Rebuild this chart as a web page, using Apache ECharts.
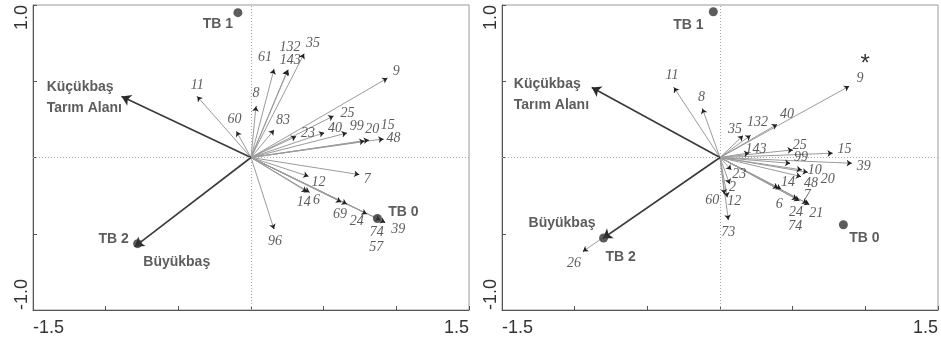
<!DOCTYPE html>
<html>
<head>
<meta charset="utf-8">
<script src="https://cdn.jsdelivr.net/npm/echarts@6/dist/echarts.min.js"></script>
<style>
  html, body { margin: 0; padding: 0; background: #fff; }
  #chart { width: 941px; height: 342px; }
</style>
</head>
<body>
<div id="chart"></div>
<script>
// ---- Left biplot: species vectors (axis 1 / axis 2 scores) ----
const speciesA  = ['11','60','8','61','143','132','35','83','9','25','23','40','99','20','15','48','7','12','14','6','69','24','74','39','57','96'];
const speciesAx = [-0.37,-0.10,0.034,0.158,0.25,0.255,0.365,0.158,0.938,0.567,0.31,0.503,0.659,0.78,0.81,0.911,0.744,0.395,0.384,0.402,0.62,0.659,0.796,0.923,0.89,0.158];
const speciesAy = [0.40,0.17,0.335,0.578,0.57,0.575,0.68,0.18,0.52,0.272,0.138,0.162,0.16,0.107,0.115,0.122,-0.112,-0.123,-0.224,-0.228,-0.292,-0.305,-0.37,-0.426,-0.41,-0.469];

// ---- Right biplot: species vectors ----
const speciesB  = ['26','11','8','35','132','40','9','143','25','15','99','39','10','20','48','14','6','7','21','24','74','23','2','60','12','73'];
const speciesBx = [-0.943,-0.317,-0.121,0.158,0.21,0.392,0.888,0.20,0.50,0.774,0.482,0.906,0.562,0.603,0.557,0.42,0.40,0.546,0.614,0.53,0.60,0.077,0.066,0.03,0.05,0.057];
const speciesBy = [-0.616,0.459,0.32,0.143,0.145,0.217,0.467,0.03,0.05,0.028,-0.038,-0.038,-0.081,-0.097,-0.125,-0.206,-0.20,-0.283,-0.309,-0.275,-0.30,-0.081,-0.173,-0.24,-0.26,-0.408];
const starredB  = ['9'];

// ---- Environmental variables ----
const envNames = ['Küçükbaş\nTarım Alanı', 'Büyükbaş'];
const envAx = [-0.89, -0.80];
const envAy = [0.40, -0.585];
const envBx = [-0.882, -0.805];
const envBy = [0.459, -0.53];

// ---- Group centroids ----
const groupNames = ['TB 0', 'TB 1', 'TB 2'];
const groupAx = [0.87, -0.09, -0.78];
const groupAy = [-0.40, 0.95, -0.565];
const groupBx = [0.849, -0.046, -0.801];
const groupBy = [-0.441, 0.956, -0.528];

// ---- Axis scale ----
const xMin = -1.5, xMax = 1.5, xStep = 0.5;
const yMin = -1.0, yMax = 1.0, yStep = 0.5;

// ---- Label placement (pixel offsets from the arrow tip / point) ----
const speciesOffsetA = [[0,-11],[-2,-12],[0,-13],[-9,-12],[3,-10],[2,-23],[9,-10],[9,-10],[9,-7],[14,-3],[12,-3],[11,-4],[10,-7],[8,-12],[19,-15],[10,-1],[8,5],[10,6],[-3,11],[7,8],[-1,12],[10,17],[10,18],[13,7],[-4,27],[1,12]];
const speciesOffsetB = [[-9,12],[-2,-12],[-1,-11],[-8,-6],[7,-13],[10,-10],[11,-8],[7,-4],[7,-5],[12,-4],[11,-6],[12,3],[13,0],[20,7],[10,7],[7,-7],[1,16],[8,-5],[7,9],[-1,13],[-12,23],[8,4],[3,3],[-12,6],[7,4],[0,13]];
const groupOffsetA = [[26,-6],[-20,12],[-24,-5]];
const groupOffsetB = [[21,13],[-25,13],[17,19]];
const envLabelA = [{ offset: [-75, 1], align: 'left' }, { offset: [42, 15], align: 'center' }];
const envLabelB = [{ offset: [-78, 7], align: 'left' }, { offset: [-41, -15], align: 'center' }];

const INK = '#333';
const THIN = '#9b9b9b';

// Vector shafts drawn from the origin to each score
function shaftSeries(xs, ys, idx, color, width, z) {
  return {
    type: 'lines', coordinateSystem: 'cartesian2d',
    xAxisIndex: idx, yAxisIndex: idx,
    symbol: 'none', silent: true, z: z,
    lineStyle: { color: color, width: width, opacity: 1 },
    data: xs.map((x, i) => ({ coords: [[0, 0], [x, ys[i]]] }))
  };
}

// Dark arrow heads: a very short final piece of each vector carrying the head
function headSeries(xs, ys, idx, color, size, z) {
  const k = 0.985;
  return {
    type: 'lines', coordinateSystem: 'cartesian2d',
    xAxisIndex: idx, yAxisIndex: idx,
    symbol: ['none', 'arrow'], symbolSize: size, silent: true, z: z,
    lineStyle: { color: color, width: 1, opacity: 1 },
    data: xs.map((x, i) => ({ coords: [[x * k, ys[i] * k], [x, ys[i]]] }))
  };
}

function speciesLabelSeries(names, xs, ys, offsets, idx) {
  return {
    type: 'scatter', xAxisIndex: idx, yAxisIndex: idx,
    symbolSize: 0, silent: true, z: 6,
    data: names.map((n, i) => ({
      name: n, value: [xs[i], ys[i]],
      label: { offset: offsets[i] }
    })),
    label: {
      show: true, position: 'inside', formatter: p => p.name,
      fontFamily: 'Liberation Serif', fontStyle: 'italic', fontSize: 14, color: INK
    }
  };
}

function starSeries(names, xs, ys, marked, idx) {
  const data = [];
  names.forEach((n, i) => {
    if (marked.includes(n)) data.push({ name: '*', value: [xs[i], ys[i]] });
  });
  return {
    type: 'scatter', xAxisIndex: idx, yAxisIndex: idx,
    symbolSize: 0, silent: true, z: 6, data: data,
    label: {
      show: true, position: 'inside', offset: [16, -22], formatter: '*',
      fontFamily: 'Liberation Sans', fontSize: 24, color: '#000'
    }
  };
}

function groupSeries(xs, ys, offsets, idx) {
  return {
    type: 'scatter', xAxisIndex: idx, yAxisIndex: idx,
    symbol: 'circle', symbolSize: 9, silent: true, z: 7,
    itemStyle: { color: INK },
    data: groupNames.map((n, i) => ({
      name: n, value: [xs[i], ys[i]],
      label: { offset: offsets[i] }
    })),
    label: {
      show: true, position: 'inside', formatter: p => p.name,
      fontFamily: 'Liberation Sans', fontWeight: 'bold', fontSize: 14, color: INK
    }
  };
}

function envLabelSeries(xs, ys, place, idx) {
  return {
    type: 'scatter', xAxisIndex: idx, yAxisIndex: idx,
    symbolSize: 0, silent: true, z: 7,
    data: envNames.map((n, i) => ({
      name: n, value: [xs[i], ys[i]],
      label: { offset: place[i].offset, align: place[i].align }
    })),
    label: {
      show: true, position: 'inside', formatter: p => p.name,
      verticalAlign: 'middle', lineHeight: 21,
      fontFamily: 'Liberation Sans', fontWeight: 'bold', fontSize: 14, color: INK
    }
  };
}

function crossSeries(idx) {
  return {
    type: 'scatter', xAxisIndex: idx, yAxisIndex: idx, data: [], silent: true,
    markLine: {
      silent: true, symbol: 'none', label: { show: false },
      lineStyle: { color: '#a8a8a8', type: [1, 2], width: 1 },
      data: [{ xAxis: 0 }, { yAxis: 0 }]
    }
  };
}

function xAxisDef(idx) {
  return {
    type: 'value', gridIndex: idx, min: xMin, max: xMax, interval: xStep,
    axisLine: { onZero: false, lineStyle: { color: '#555', width: 1 } },
    axisTick: { inside: true, length: 4, lineStyle: { color: '#555' } },
    splitLine: { show: false },
    axisLabel: {
      margin: 9, fontSize: 18, fontFamily: 'Liberation Sans', color: INK,
      alignMinLabel: 'left', alignMaxLabel: 'right',
      formatter: v => (Math.abs(Math.abs(v) - xMax) < 1e-9 ? v.toFixed(1) : '')
    }
  };
}

function yAxisDef(idx) {
  return {
    type: 'value', gridIndex: idx, min: yMin, max: yMax, interval: yStep,
    axisLine: { onZero: false, lineStyle: { color: '#555', width: 1 } },
    axisTick: { inside: true, length: 4, lineStyle: { color: '#555' } },
    splitLine: { show: false },
    axisLabel: {
      rotate: 90, margin: 2, fontSize: 18, fontFamily: 'Liberation Sans', color: INK,
      alignMinLabel: 'left', alignMaxLabel: 'right',
      formatter: v => (Math.abs(Math.abs(v) - yMax) < 1e-9 ? v.toFixed(1) : '')
    }
  };
}

const chart = echarts.init(document.getElementById('chart'), null, { renderer: 'canvas' });
chart.setOption({
  animation: false,
  backgroundColor: '#fff',
  grid: [
    { left: 33, top: 5, width: 436, height: 305, show: true, borderColor: '#9a9a9a', borderWidth: 1 },
    { left: 502, top: 5, width: 438, height: 305, show: true, borderColor: '#9a9a9a', borderWidth: 1 }
  ],
  xAxis: [xAxisDef(0), xAxisDef(1)],
  yAxis: [yAxisDef(0), yAxisDef(1)],
  series: [
    crossSeries(0),
    crossSeries(1),
    shaftSeries(speciesAx, speciesAy, 0, THIN, 1, 3),
    shaftSeries(speciesBx, speciesBy, 1, THIN, 1, 3),
    headSeries(speciesAx, speciesAy, 0, '#222', 5, 4),
    headSeries(speciesBx, speciesBy, 1, '#222', 5, 4),
    shaftSeries(envAx, envAy, 0, '#3a3a3a', 1.6, 4),
    shaftSeries(envBx, envBy, 1, '#3a3a3a', 1.6, 4),
    headSeries(envAx, envAy, 0, '#2a2a2a', 9, 5),
    headSeries(envBx, envBy, 1, '#2a2a2a', 9, 5),
    speciesLabelSeries(speciesA, speciesAx, speciesAy, speciesOffsetA, 0),
    speciesLabelSeries(speciesB, speciesBx, speciesBy, speciesOffsetB, 1),
    starSeries(speciesB, speciesBx, speciesBy, starredB, 1),
    groupSeries(groupAx, groupAy, groupOffsetA, 0),
    groupSeries(groupBx, groupBy, groupOffsetB, 1),
    envLabelSeries(envAx, envAy, envLabelA, 0),
    envLabelSeries(envBx, envBy, envLabelB, 1)
  ]
});
</script>
</body>
</html>
